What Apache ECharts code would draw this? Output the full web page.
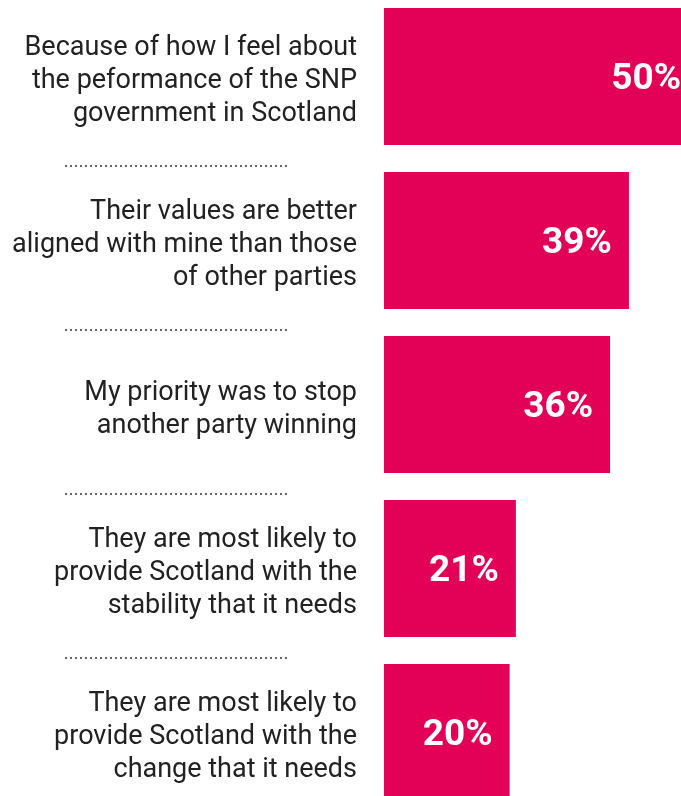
<!DOCTYPE html>
<html>
<head>
<meta charset="utf-8">
<script src="https://cdn.jsdelivr.net/npm/echarts@6/dist/echarts.min.js"></script>
<style>
html,body{margin:0;padding:0;background:#fff;overflow:hidden;width:681px;height:796px;}
#main{position:absolute;left:0;top:-20px;width:720px;height:860px;}
</style>
</head>
<body>
<div id="main"></div>
<script>
var categories = [
  "Because of how I feel about\nthe peformance of the SNP\ngovernment in Scotland",
  "Their values are better\naligned with mine than those\nof other parties",
  "My priority was to stop\nanother party winning",
  "They are most likely to\nprovide Scotland with the\nstability that it needs",
  "They are most likely to\nprovide Scotland with the\nchange that it needs"
];
var values = [50, 39, 36, 21, 20];

var chart = echarts.init(document.getElementById('main'), null, {renderer: 'canvas'});
chart.setOption({
  animation: false,
  backgroundColor: '#ffffff',
  grid: [
    {left: 384, width: 314, top: 14.5, height: 820, containLabel: false},
    {left: 65, width: 222, top: 22, height: 820, containLabel: false},
    {left: 384, width: 314, top: 19.5, height: 820, containLabel: false}
  ],
  xAxis: [
    {type: 'value', gridIndex: 0, min: 0, max: 50, show: false},
    {type: 'value', gridIndex: 1, min: 0, max: 1, show: false},
    {type: 'value', gridIndex: 2, min: 0, max: 1, show: false}
  ],
  yAxis: [
    {
      type: 'category', gridIndex: 0, data: categories, inverse: true,
      axisLine: {show: false}, axisTick: {show: false}, splitLine: {show: false},
      axisLabel: {show: false}
    },
    {
      type: 'category', gridIndex: 1, data: categories, inverse: true,
      axisLine: {show: false}, axisTick: {show: false}, axisLabel: {show: false},
      splitLine: {
        show: true,
        interval: function (i) { return i > 0; },
        lineStyle: {color: '#666666', width: 2, type: [2, 3]}
      }
    },
    {
      type: 'category', gridIndex: 2, data: categories, inverse: true,
      axisLine: {show: false}, axisTick: {show: false}, splitLine: {show: false},
      axisLabel: {
        margin: 27, fontSize: 27, lineHeight: 33, color: '#222222',
        fontFamily: 'Roboto', align: 'right'
      }
    }
  ],
  series: [{
    type: 'bar',
    xAxisIndex: 0, yAxisIndex: 0,
    data: values,
    barWidth: 137,
    clip: false,
    itemStyle: {color: '#e30057'},
    label: {
      show: true, position: 'insideRight', distance: 17, offset: [0, 3],
      formatter: '{c}%', color: '#ffffff', fontSize: 37, fontWeight: 'bold',
      fontFamily: 'Roboto'
    }
  }]
});
</script>
</body>
</html>
